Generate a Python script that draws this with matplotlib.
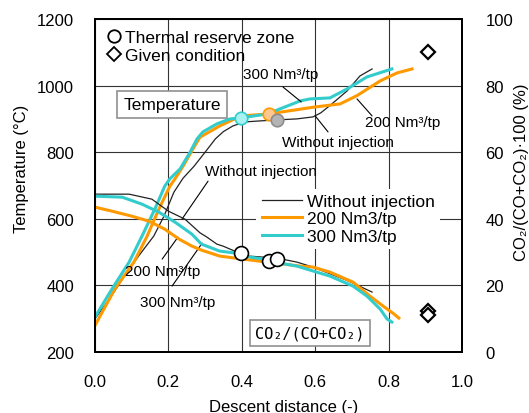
import matplotlib
matplotlib.use("Agg")
import matplotlib.pyplot as plt
from matplotlib.lines import Line2D

plt.rcParams['font.family'] = ['Liberation Sans', 'DejaVu Sans']

# Colours
C_NONE = '#222222'
C_200 = '#FF9900'
C_300 = '#33CCCC'

# Temperature profiles (descent distance, degC)
x_none_T = [0.0, 0.04, 0.08, 0.12, 0.16, 0.188, 0.215, 0.24, 0.27, 0.30, 0.328, 0.35, 0.376,
            0.409, 0.45, 0.496, 0.55, 0.594, 0.615, 0.64, 0.687, 0.722, 0.755]
T_none = [300, 360, 428, 490, 548, 608, 680, 722, 758, 800, 840, 862, 879,
          891, 894, 897, 900, 906, 918, 940, 984, 1029, 1050]

x_200_T = [0.0, 0.054, 0.106, 0.142, 0.174, 0.204, 0.218, 0.24, 0.267, 0.286, 0.34, 0.398,
           0.474, 0.504, 0.594, 0.668, 0.714, 0.777, 0.823, 0.864]
T_200 = [280, 389, 470, 548, 629, 698, 720, 758, 810, 845, 879, 909,
         915, 920, 935, 945, 970, 1014, 1038, 1050]

x_300_T = [0.0, 0.046, 0.093, 0.128, 0.163, 0.19, 0.204, 0.232, 0.259, 0.278, 0.294, 0.332,
           0.368, 0.398, 0.47, 0.504, 0.559, 0.586, 0.64, 0.687, 0.741, 0.809]
T_300 = [305, 389, 470, 548, 629, 698, 720, 750, 800, 840, 861, 885,
         900, 903, 915, 930, 954, 960, 963, 990, 1026, 1050]

# CO2/(CO+CO2) profiles (%)
x_none_R = [0.0, 0.093, 0.155, 0.2, 0.245, 0.286, 0.305, 0.332, 0.349, 0.387, 0.42, 0.496,
            0.55, 0.594, 0.687, 0.755]
R_none = [47.4, 47.4, 45.9, 42.3, 39.9, 35.8, 34.5, 32.4, 31.8, 30.0, 28.8, 28.2,
          27.0, 25.5, 21.5, 18.0]

x_200_R = [0.0, 0.046, 0.1, 0.147, 0.19, 0.229, 0.264, 0.29, 0.34, 0.403, 0.469, 0.559,
           0.594, 0.64, 0.703, 0.749, 0.785, 0.815, 0.828]
R_200 = [43.5, 42.3, 40.8, 39.3, 36.9, 33.9, 31.8, 30.6, 28.8, 27.9, 27.0, 25.8,
         25.5, 24.0, 21.0, 16.8, 13.8, 11.4, 10.2]

x_300_R = [0.0, 0.074, 0.128, 0.174, 0.218, 0.264, 0.29, 0.34, 0.398, 0.422, 0.46, 0.504,
           0.55, 0.64, 0.703, 0.741, 0.777, 0.796, 0.809]
R_300 = [46.8, 46.5, 44.4, 42.0, 39.0, 35.4, 32.4, 30.3, 29.5, 28.5, 27.9, 26.7,
         25.8, 22.8, 19.8, 16.8, 12.9, 9.9, 9.0]

# Thermal reserve zone start points
zone_x = [0.398, 0.474, 0.496]
zone_T = [903, 915, 897]
zone_R = [29.7, 27.3, 27.9]
zone_face = ['#A8F2F2', '#FFC890', '#B4B4B4']
zone_edge = [C_300, C_200, '#8C8C8C']

# Given condition
given_x = [0.907]
given_T = [1100]
given_Rx = [0.907, 0.907]
given_R = [12.3, 11.0]

# Leader labels: text, text pos, line start, line end (x, degC)
labels = [
    ("300 Nm\u00b3/tp", (0.403, 1035), (0.512, 996), (0.562, 951)),
    ("200 Nm\u00b3/tp", (0.736, 891), (0.714, 960), (0.755, 909)),
    ("Without injection", (0.51, 831), (0.60, 909), (0.635, 861)),
    ("Without injection", (0.30, 744), (0.308, 713), (0.237, 599)),
    ("200 Nm\u00b3/tp", (0.082, 443), (0.183, 479), (0.226, 545)),
    ("300 Nm\u00b3/tp", (0.123, 350), (0.21, 398), (0.292, 527)),
]

fig = plt.figure(figsize=(5.29, 4.14), dpi=100)
ax = fig.add_axes([0.1796, 0.1473, 0.6937, 0.8044])
ax2 = ax.twinx()

ax.set_xlim(0, 1.0)
ax.set_ylim(200, 1200)
ax2.set_ylim(0, 100)
ax.set_xticks([0, 0.2, 0.4, 0.6, 0.8, 1.0])
ax.set_xticklabels(['0.0', '0.2', '0.4', '0.6', '0.8', '1.0'])
ax.set_yticks(range(200, 1201, 200))
ax2.set_yticks(range(0, 101, 20))
ax.grid(True, color='#333333', lw=0.8)
ax.tick_params(axis='both', length=0, labelsize=12)
ax.tick_params(axis='x', pad=16)
ax.tick_params(axis='y', pad=15)
ax2.tick_params(axis='y', length=0, labelsize=12, pad=17)
for a in (ax, ax2):
    for s in a.spines.values():
        s.set_linewidth(1.4)

# temperature
ax.plot(x_none_T, T_none, color=C_NONE, lw=0.9)
ax.plot(x_200_T, T_200, color=C_200, lw=2.2)
ax.plot(x_300_T, T_300, color=C_300, lw=2.2)
for xx, tt, fc, ec in zip(zone_x, zone_T, zone_face, zone_edge):
    ax.plot(xx, tt, 'o', ms=9, mfc=fc, mec=ec, mew=1.2, zorder=5)
ax.plot(given_x, given_T, 'D', ms=7, mfc='white', mec='black', mew=1.6, zorder=5)

# CO2 ratio
ax2.plot(x_none_R, R_none, color=C_NONE, lw=0.9, label='Without injection')
ax2.plot(x_200_R, R_200, color=C_200, lw=2.2, label='200 Nm3/tp')
ax2.plot(x_300_R, R_300, color=C_300, lw=2.2, label='300 Nm3/tp')
ax2.plot(zone_x, zone_R, 'o', ms=10, mfc='white', mec='black', mew=1.2, zorder=5)
ax2.plot(given_Rx, given_R, 'D', ms=7, mfc='white', mec='black', mew=1.6, zorder=5)

for txt, tpos, p0, p1 in labels:
    ax.text(tpos[0], tpos[1], txt, fontsize=11, ha='left', va='center')
    ax.annotate('', xy=p1, xytext=p0,
                arrowprops=dict(arrowstyle='-', color='black', lw=0.8,
                                shrinkA=0, shrinkB=0))

ax.text(0.21, 0.742, 'Temperature', transform=ax.transAxes, fontsize=12.5,
        ha='center', va='center', zorder=6,
        bbox=dict(boxstyle='square,pad=0.35', fc='white', ec='#909090', lw=1.2))
ax.text(0.586, 0.057, 'CO\u2082/(CO+CO\u2082)', transform=ax.transAxes, fontsize=11,
        family=['DejaVu Sans Mono'], ha='center', va='center', zorder=6,
        bbox=dict(boxstyle='square,pad=0.35', fc='white', ec='#909090', lw=1.2))

leg = ax2.legend(loc='upper left', bbox_to_anchor=(0.44, 0.49), frameon=True,
                 fontsize=12.5, handlelength=2.3, handletextpad=0.3,
                 labelspacing=0.12, borderpad=0.3, borderaxespad=0)
leg.get_frame().set_edgecolor('none')
leg.get_frame().set_facecolor('white')
leg.get_frame().set_alpha(1)
ax2.add_artist(leg)

marker_handles = [
    Line2D([], [], ls='none', marker='o', ms=9, mfc='white', mec='black', mew=1.3),
    Line2D([], [], ls='none', marker='D', ms=7, mfc='white', mec='black', mew=1.3),
]
ax2.legend(marker_handles, ['Thermal reserve zone', 'Given condition'],
           loc='upper left', bbox_to_anchor=(0.0, 1.0), frameon=False,
           fontsize=12.5, handlelength=0.9, handletextpad=0.15,
           labelspacing=0.15, borderaxespad=0.25)

ax.set_xlabel('Descent distance (-)', fontsize=12)
ax.set_ylabel('Temperature (\u00b0C)', fontsize=12)
ax2.set_ylabel('CO\u2082/(CO+CO\u2082)\u00b7100 (%)', fontsize=12)
ax.xaxis.set_label_coords(0.515, -0.14)
ax.yaxis.set_label_coords(-0.18, 0.553)
ax2.yaxis.set_label_coords(1.142, 0.544)

fig.savefig('out.png', dpi=100)
